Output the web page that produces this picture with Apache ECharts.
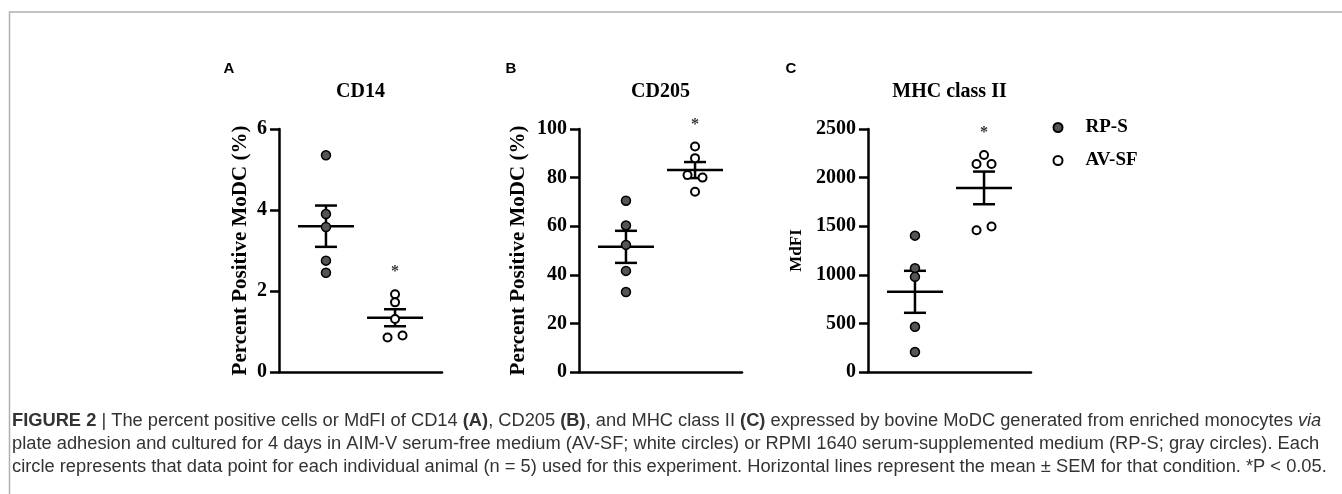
<!DOCTYPE html>
<html>
<head>
<meta charset="utf-8">
<script src="https://cdn.jsdelivr.net/npm/echarts@6/dist/echarts.min.js"></script>
<style>
html,body{margin:0;padding:0;background:#fff;}
#chart{width:1342px;height:494px;}
</style>
</head>
<body>
<div id="chart"></div>
<script>
// ---------------- data ----------------
const groups = ['RP-S', 'AV-SF'];
const panelLetters = ['A', 'B', 'C'];
const panelTitles = ['CD14', 'CD205', 'MHC class II'];
const yAxisNames = ['Percent Positive MoDC (%)', 'Percent Positive MoDC (%)', 'MdFI'];
const yMax = [6, 100, 2500];
const yInterval = [2, 20, 500];

const cd14_RPS  = [5.35, 3.90, 3.58, 2.75, 2.45];
const cd14_AVSF = [1.92, 1.72, 1.31, 0.85, 0.90];
const cd205_RPS  = [70.5, 60.3, 52.3, 41.6, 32.9];
const cd205_AVSF = [92.8, 88.0, 81.1, 80.0, 74.2];
const mhc_RPS  = [1403, 1068, 979, 465, 205];
const mhc_AVSF = [2233, 2140, 2140, 1459, 1496];

// mean and SEM (RP-S, AV-SF)
const cd14_mean = [3.60, 1.34];
const cd14_sem  = [0.51, 0.21];
const cd205_mean = [51.5, 83.1];
const cd205_sem  = [6.6, 3.3];
const mhc_mean = [825, 1894];
const mhc_sem  = [216, 168];

const significant = ['*', '*', '*'];   // marks the AV-SF group in each panel

const caption = [
  '{b|FIGURE 2} | The percent positive cells or MdFI of CD14 {b|(A)}, CD205 {b|(B)}, and MHC class II {b|(C)} expressed by bovine MoDC generated from enriched monocytes {i|via}',
  'plate adhesion and cultured for 4 days in AIM-V serum-free medium (AV-SF; white circles) or RPMI 1640 serum-supplemented medium (RP-S; gray circles). Each',
  'circle represents that data point for each individual animal (n = 5) used for this experiment. Horizontal lines represent the mean \u00b1 SEM for that condition. *P < 0.05.'
];

// ---------------- layout ----------------
const panels = [
  { rps: cd14_RPS, avsf: cd14_AVSF, mean: cd14_mean, sem: cd14_sem },
  { rps: cd205_RPS, avsf: cd205_AVSF, mean: cd205_mean, sem: cd205_sem },
  { rps: mhc_RPS, avsf: mhc_AVSF, mean: mhc_mean, sem: mhc_sem }
];
const gridLeft = [279, 579, 868];
const gridTop = 129, gridW = 163, gridH = 243;
const xMin = 0.32, xMax = 2.68;
const pxPerX = gridW / (xMax - xMin);
const SERIF = '"Liberation Serif", "Times New Roman", serif';
const SANS = '"Liberation Sans", Arial, sans-serif';
const CAP = 18.3;

// Prism-like column scatter: near-equal values share a row and are spread symmetrically
function swarm(values, center, pxPerY) {
  const idx = values.map((v, i) => i).sort((a, b) => values[a] - values[b]);
  const rows = [];
  let cur = null;
  idx.forEach(i => {
    if (cur && (values[i] - values[cur[0]]) * pxPerY < 6) cur.push(i);
    else { cur = [i]; rows.push(cur); }
  });
  const out = new Array(values.length);
  const step = 15 / pxPerX;
  rows.forEach(r => {
    r.sort((a, b) => a - b);
    r.forEach((i, k) => { out[i] = [center + (k - (r.length - 1) / 2) * step, values[i]]; });
  });
  return out;
}

const grids = [], xAxes = [], yAxes = [], series = [], graphics = [];

panels.forEach((p, pi) => {
  grids.push({ left: gridLeft[pi], top: gridTop, width: gridW, height: gridH });
  xAxes.push({
    type: 'value', gridIndex: pi, min: xMin, max: xMax,
    axisLine: { show: true, lineStyle: { color: '#000', width: 2.5 } },
    axisTick: { show: false }, axisLabel: { show: false }, splitLine: { show: false }
  });
  yAxes.push({
    type: 'value', gridIndex: pi, min: 0, max: yMax[pi], interval: yInterval[pi],
    name: yAxisNames[pi], nameLocation: 'middle',
    nameGap: [28, 50, 63][pi],
    nameTextStyle: { fontFamily: SERIF, fontWeight: 'bold', fontSize: pi === 2 ? 17 : 21, color: '#000' },
    axisLine: { show: true, lineStyle: { color: '#000', width: 2.5 } },
    axisTick: { show: true, inside: false, length: 9, lineStyle: { color: '#000', width: 2.5 } },
    axisLabel: { fontFamily: SERIF, fontWeight: 'bold', fontSize: 20, color: '#000', margin: 12,
                 formatter: function (v) { return String(v); } },
    splitLine: { show: false }
  });
  const pxPerY = gridH / yMax[pi];

  // mean +/- SEM lines
  series.push({
    type: 'custom', name: 'mean', xAxisIndex: pi, yAxisIndex: pi, z: 2,
    data: [[1, p.mean[0], p.sem[0]], [2, p.mean[1], p.sem[1]]],
    renderItem: function (params, api) {
      const x = api.value(0), m = api.value(1), s = api.value(2);
      const pm = api.coord([x, m]);
      const pt = api.coord([x, m + s]);
      const pb = api.coord([x, m - s]);
      const st = { stroke: '#000', lineWidth: 2.5, fill: null };
      return {
        type: 'group', children: [
          { type: 'line', shape: { x1: pm[0] - 28, y1: pm[1], x2: pm[0] + 28, y2: pm[1] }, style: st },
          { type: 'line', shape: { x1: pt[0], y1: pt[1], x2: pb[0], y2: pb[1] }, style: st },
          { type: 'line', shape: { x1: pt[0] - 11, y1: pt[1], x2: pt[0] + 11, y2: pt[1] }, style: st },
          { type: 'line', shape: { x1: pb[0] - 11, y1: pb[1], x2: pb[0] + 11, y2: pb[1] }, style: st }
        ]
      };
    }
  });

  series.push({
    type: 'scatter', name: groups[0], xAxisIndex: pi, yAxisIndex: pi, z: 5,
    symbol: 'circle', symbolSize: 9,
    itemStyle: { color: '#555', borderColor: '#000', borderWidth: 1.5, opacity: 1 },
    data: swarm(p.rps, 1, pxPerY)
  });
  series.push({
    type: 'scatter', name: groups[1], xAxisIndex: pi, yAxisIndex: pi, z: 5,
    symbol: 'circle', symbolSize: 8,
    itemStyle: { color: '#fff', borderColor: '#000', borderWidth: 2, opacity: 1 },
    data: swarm(p.avsf, 2, pxPerY)
  });

  // significance star above the AV-SF group
  series.push({
    type: 'scatter', name: 'sig', xAxisIndex: pi, yAxisIndex: pi, z: 6,
    symbolSize: 0, silent: true,
    data: [[2, Math.max.apply(null, p.avsf)]],
    label: { show: true, position: 'top', distance: 14, formatter: significant[pi],
             fontFamily: SERIF, fontWeight: 'bold', fontSize: 16, color: '#000' }
  });

  const cx = gridLeft[pi] + gridW / 2;
  graphics.push({
    type: 'text', x: cx, y: 92,
    style: { text: panelTitles[pi], font: 'bold 20px ' + SERIF, fill: '#000',
             align: 'center', verticalAlign: 'middle', textAlign: 'center', textVerticalAlign: 'middle' }
  });
});

const letterX = [229, 511, 791];
panelLetters.forEach((l, i) => {
  graphics.push({
    type: 'text', x: letterX[i], y: 69,
    style: { text: l, font: 'bold 15px ' + SANS, fill: '#000',
             align: 'center', verticalAlign: 'middle', textAlign: 'center', textVerticalAlign: 'middle' }
  });
});

// frame lines
graphics.push({
  type: 'polyline', silent: true,
  shape: { points: [[9.5, 494], [9.5, 12], [1342, 12]] },
  style: { stroke: '#b0b0b0', lineWidth: 1.5, fill: null }
});

// caption
const capY = [421, 444, 467];
caption.forEach((t, i) => {
  graphics.push({
    type: 'text', x: 12, y: capY[i],
    style: {
      text: t, fill: '#333', font: CAP + 'px ' + SANS,
      verticalAlign: 'middle', textVerticalAlign: 'middle',
      rich: {
        b: { fontFamily: SANS, fontSize: CAP, fontWeight: 'bold', fill: '#333' },
        i: { fontFamily: SANS, fontSize: CAP, fontStyle: 'italic', fill: '#333' }
      }
    }
  });
});

const chart = echarts.init(document.getElementById('chart'), null, { renderer: 'canvas' });
chart.setOption({
  backgroundColor: '#fff',
  animation: false,
  grid: grids,
  xAxis: xAxes,
  yAxis: yAxes,
  legend: {
    data: groups, orient: 'vertical', left: 1052.5, top: 118, itemGap: 14, padding: 0,
    itemWidth: 9, itemHeight: 9, icon: 'circle', selectedMode: false,
    textStyle: { fontFamily: SERIF, fontWeight: 'bold', fontSize: 19, color: '#000', padding: [0, 0, 0, 18] }
  },
  series: series,
  graphic: graphics
});
</script>
</body>
</html>
